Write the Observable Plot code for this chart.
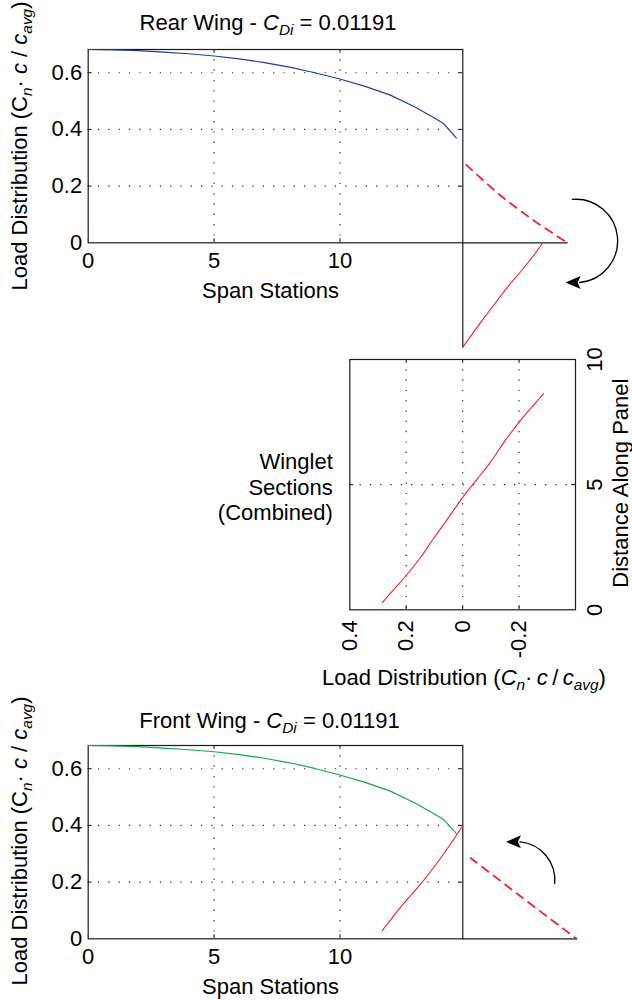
<!DOCTYPE html>
<html><head><meta charset="utf-8">
<script src="https://cdn.jsdelivr.net/npm/d3@7"></script>
<script src="https://cdn.jsdelivr.net/npm/@observablehq/plot@0.6"></script>
<style>
html,body{margin:0;padding:0;background:#fff;}
#chart{position:relative;width:632px;height:1000px;overflow:hidden;font-family:"Liberation Sans",Arial,Helvetica,sans-serif;color:#000;}
#chart svg{position:absolute;left:0;top:0;}
.lbl{position:absolute;font-size:22px;line-height:1;white-space:nowrap;transform:translate(-50%,-50%);}
.rot{transform:translate(-50%,-50%) rotate(-90deg);}
.lbl sub{font-size:0.7em;vertical-align:-0.3em;line-height:0;}
</style></head>
<body><div id="chart"></div>
<script>
// ---------- data ----------
const spanTicks = [0, 5, 10];
const loadTicks = [0, 0.2, 0.4, 0.6];
const spanLimit = 14.88;
const loadLimit = 0.682;

const rearSpan = [0, 1, 2, 3, 4, 5, 6, 7, 8, 9, 10, 11, 12, 13, 13.7, 14.1, 14.62];
const rearLoad = [0.682, 0.681, 0.678, 0.673, 0.667, 0.659, 0.649, 0.636, 0.620, 0.600, 0.578, 0.552, 0.521, 0.478, 0.443, 0.422, 0.370];
const rearWingletSpan = [14.88, 15.85, 16.65, 17.44, 18.06];
const rearWingletLoad = [-0.368, -0.250, -0.157, -0.074, 0];
const rearProjSpan = [15.02, 16.38, 17.70, 19.03];
const rearProjLoad = [0.275, 0.167, 0.079, 0];
const rearGeomSpan = [14.88, 14.88, 19.03];
const rearGeomLoad = [-0.368, 0, 0];
const rearArrow = [{x1: 19.23, y1: 0.153, x2: 19.52, y2: -0.140}];

const panelLoadTicks = [0.4, 0.2, 0, -0.2];
const panelLoadLimits = [0.4, -0.4];
const distanceTicks = [0, 5, 10];
const distanceLimits = [0, 10];
const wingletLoad = [0.285, 0.245, 0.2, 0.15, 0.103, 0.05, 0, -0.05, -0.098, -0.15, -0.2, -0.245, -0.287];
const wingletDistance = [0.28, 0.80, 1.37, 2.08, 2.85, 3.68, 4.49, 5.20, 5.89, 6.75, 7.50, 8.10, 8.64];

const frontSpan = [0, 1, 2, 3, 4, 5, 6, 7, 8, 9, 10, 11, 12, 13, 13.7, 14.1, 14.62];
const frontLoad = [0.682, 0.681, 0.678, 0.673, 0.667, 0.660, 0.650, 0.637, 0.621, 0.601, 0.578, 0.552, 0.521, 0.478, 0.443, 0.422, 0.372];
const frontWingletSpan = [11.68, 12.41, 13.27, 14.13, 14.88];
const frontWingletLoad = [0.029, 0.112, 0.200, 0.301, 0.399];
const frontProjSpan = [15.19, 17.04, 19.40];
const frontProjLoad = [0.285, 0.159, 0];
const frontGeomSpan = [14.88, 19.40];
const frontGeomLoad = [0, 0];
const frontArrow = [{x1: 18.53, y1: 0.195, x2: 17.15, y2: 0.342}];

// ---------- styles ----------
const BLUE = "#2a3a9e", GREEN = "#14a84f", RED = "#f0222c", INK = "#1a1a1a";
const W = 632, H = 1000;
const baseStyle = {fontFamily: '"Liberation Sans", Arial, Helvetica, sans-serif', fontSize: "22px", background: "transparent", overflow: "visible"};
const gridOpts = {stroke: "#222", strokeOpacity: 1, strokeWidth: 1.2, strokeDasharray: "1.2,9.1"};
const pts = (xs, ys) => xs.map((x, i) => ({x, y: ys[i]}));
const fmt = d => d === 0 ? "0" : String(d);

const arrowHead = {
  draw(ctx) {
    ctx.moveTo(0, -10); ctx.lineTo(6.5, 5); ctx.lineTo(0, 2); ctx.lineTo(-6.5, 5); ctx.closePath();
  }
};

function boxTicks(xt, yt, xLo, xHi, yLo, yHi) {
  const o = {stroke: INK, strokeWidth: 1};
  return [
    Plot.ruleX(xt, {x: d => d, y1: yLo, y2: yLo, insetTop: -4, ...o}),
    Plot.ruleX(xt, {x: d => d, y1: yHi, y2: yHi, insetBottom: -4, ...o}),
    Plot.ruleY(yt, {y: d => d, x1: xLo, x2: xLo, insetRight: -4, ...o}),
    Plot.ruleY(yt, {y: d => d, x1: xHi, x2: xHi, insetLeft: -4, ...o})
  ];
}

function wingPanel(opts) {
  const {top, bottom, span, load, color, wSpan, wLoad, pSpan, pLoad, gSpan, gLoad, arrow, bend} = opts;
  return Plot.plot({
    width: W, height: H,
    marginLeft: 87.7, marginRight: W - 462.3, marginTop: top, marginBottom: H - bottom,
    x: {domain: [0, spanLimit]},
    y: {domain: [0, loadLimit]},
    style: baseStyle,
    marks: [
      Plot.gridX(spanTicks.slice(1), gridOpts),
      Plot.gridY(loadTicks.slice(1), gridOpts),
      ...boxTicks(spanTicks.slice(1), loadTicks.slice(1), 0, spanLimit, 0, loadLimit),
      Plot.frame({stroke: INK, strokeWidth: 1.2}),
      Plot.axisX(spanTicks, {tickSize: 0, tickPadding: 10, label: null, tickFormat: fmt, fontSize: 22}),
      Plot.axisY(loadTicks, {tickSize: 0, tickPadding: 6, label: null, tickFormat: d => d === 0 ? "0" : d.toFixed(1), fontSize: 22}),
      Plot.text(["Span Stations"], {frameAnchor: "bottom", lineAnchor: "middle", dy: 48, dx: -5, fontSize: 22}),
      Plot.line(pts(gSpan, gLoad), {x: "x", y: "y", stroke: INK, strokeWidth: 1.2}),
      Plot.line(pts(span, load), {x: "x", y: "y", stroke: color, strokeWidth: 1.2}),
      Plot.line(pts(wSpan, wLoad), {x: "x", y: "y", stroke: RED, strokeWidth: 1.1, curve: "catmull-rom"}),
      Plot.line(pts(pSpan, pLoad), {x: "x", y: "y", stroke: RED, strokeWidth: 1.8, strokeDasharray: "8,6.5", curve: "catmull-rom"}),
      Plot.arrow(arrow, {x1: "x1", y1: "y1", x2: "x2", y2: "y2", bend, headLength: 0, stroke: "#000", strokeWidth: 1.3, insetStart: 0, insetEnd: 0}),
      Plot.dot(arrow, {x: "x2", y: "y2", symbol: arrowHead, r: 5, fill: "#000", stroke: "none", rotate: -90, dx: -4})
    ]
  });
}

const chart = document.getElementById("chart");

chart.append(wingPanel({
  top: 49, bottom: 242.3, span: rearSpan, load: rearLoad, color: BLUE,
  wSpan: rearWingletSpan, wLoad: rearWingletLoad, pSpan: rearProjSpan, pLoad: rearProjLoad,
  gSpan: rearGeomSpan, gLoad: rearGeomLoad, arrow: rearArrow, bend: 90
}));

chart.append(Plot.plot({
  width: W, height: H,
  marginLeft: 349.3, marginRight: W - 575, marginTop: 359, marginBottom: H - 609.3,
  x: {domain: panelLoadLimits, axis: null},
  y: {domain: distanceLimits, axis: null},
  style: baseStyle,
  marks: [
    Plot.gridX(panelLoadTicks.slice(1), gridOpts),
    Plot.gridY([5], gridOpts),
    ...boxTicks(panelLoadTicks.slice(1), [5], panelLoadLimits[0], panelLoadLimits[1], distanceLimits[0], distanceLimits[1]),
    Plot.frame({stroke: INK, strokeWidth: 1.2}),
    Plot.text(panelLoadTicks, {x: d => d, y: distanceLimits[0], text: fmt, rotate: -90, textAnchor: "end", dy: 10.5, fontSize: 22}),
    Plot.text(distanceTicks, {x: panelLoadLimits[1], y: d => d, text: fmt, rotate: -90, textAnchor: "middle", dx: 19, fontSize: 22}),
    Plot.text(["Distance Along Panel"], {x: panelLoadLimits[1], y: 5, rotate: -90, textAnchor: "middle", dx: 45, dy: -1.5, fontSize: 22}),
    Plot.text(["Winglet\nSections\n(Combined)"], {x: panelLoadLimits[0], y: 5, textAnchor: "end", dx: -17, dy: 2, lineHeight: 1.15, fontSize: 22}),
    Plot.line(pts(wingletLoad, wingletDistance), {x: "x", y: "y", stroke: RED, strokeWidth: 1.1, curve: "catmull-rom"})
  ]
}));

chart.append(wingPanel({
  top: 745, bottom: 938.3, span: frontSpan, load: frontLoad, color: GREEN,
  wSpan: frontWingletSpan, wLoad: frontWingletLoad, pSpan: frontProjSpan, pLoad: frontProjLoad,
  gSpan: frontGeomSpan, gLoad: frontGeomLoad, arrow: frontArrow, bend: -45
}));

// ---------- rich-text labels ----------
const ylab = 'Load Distribution (C<sub><i>n</i></sub>\u00B7 <i>c</i> / <i>c<sub>avg</sub></i>)';
const labels = [
  {html: 'Rear Wing - <i>C<sub>Di</sub></i> = 0.01191', x: 268, y: 22.5, rot: false},
  {html: ylab, x: 19.5, y: 146, rot: true},
  {html: 'Load Distribution (<i>C<sub>n</sub></i>\u00B7\u2009<i>c</i>\u2009/\u2009<i>c<sub>avg</sub></i>)', x: 464, y: 677.5, rot: false},
  {html: 'Front Wing - <i>C<sub>Di</sub></i> = 0.01191', x: 269.5, y: 721, rot: false},
  {html: ylab, x: 19.5, y: 841, rot: true}
];
for (const l of labels) {
  const d = document.createElement("div");
  d.className = "lbl" + (l.rot ? " rot" : "");
  d.style.left = l.x + "px";
  d.style.top = l.y + "px";
  d.innerHTML = l.html;
  chart.append(d);
}
</script></body></html>
